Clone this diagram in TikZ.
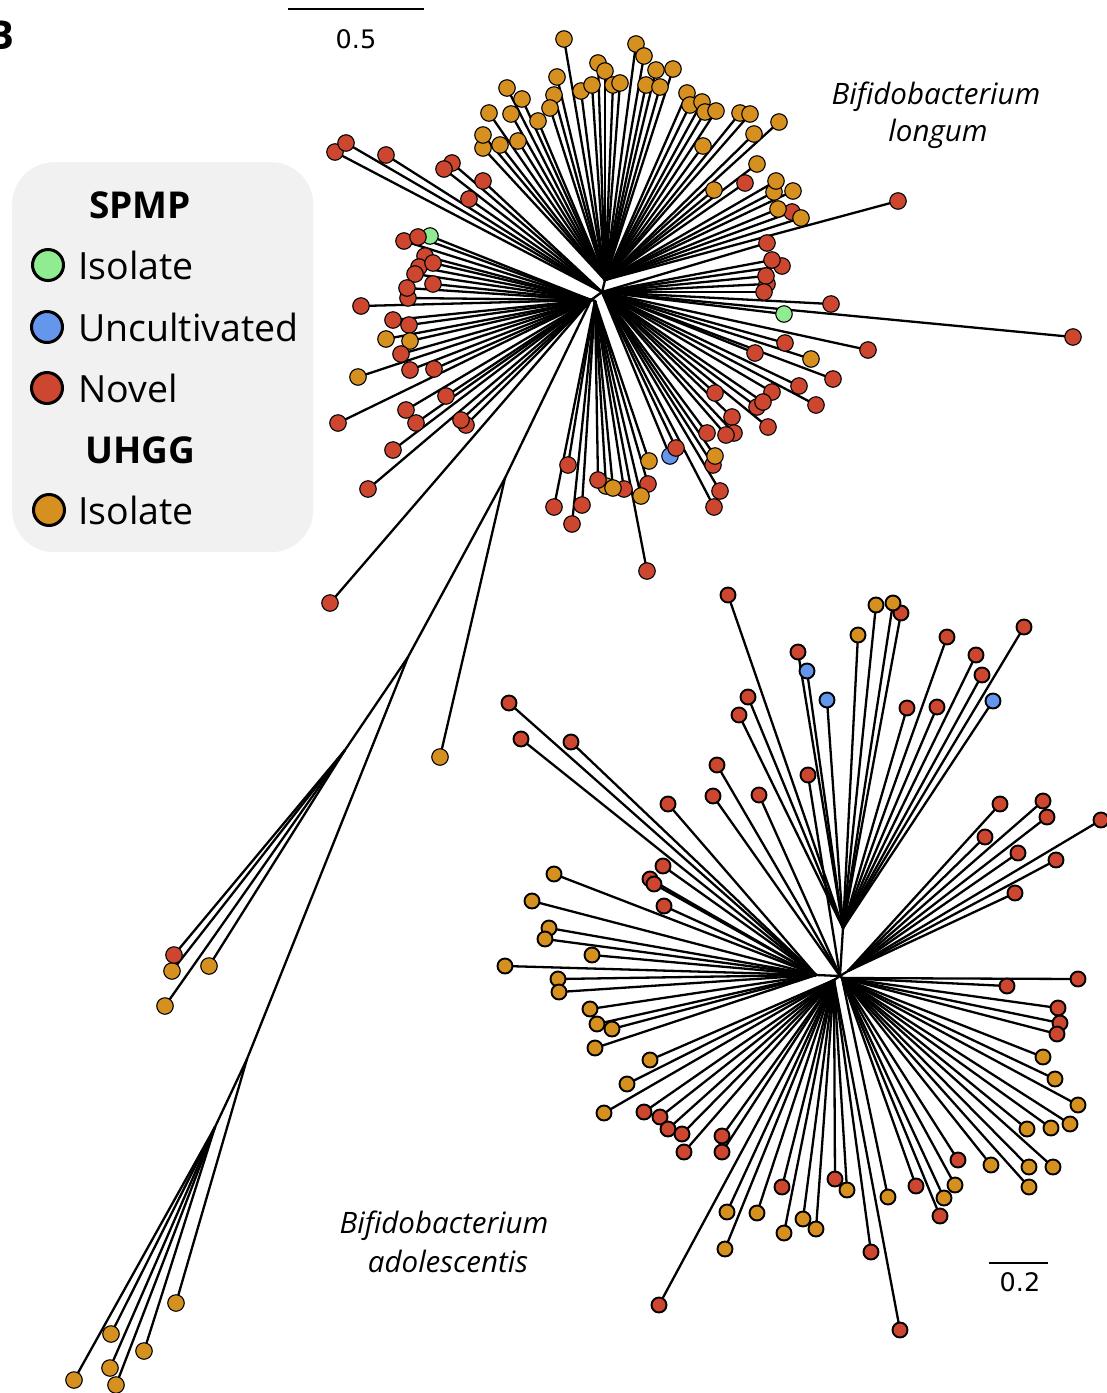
\documentclass[tikz,border=0pt]{standalone}
\usepackage{fontspec}
\setmainfont{Open Sans}
\newfontfamily\scalefnt{DejaVu Sans}
\definecolor{or}{RGB}{214,144,32}
\definecolor{rd}{RGB}{204,70,48}
\definecolor{gn}{RGB}{144,236,144}
\definecolor{bl}{RGB}{100,150,236}
\definecolor{leggray}{RGB}{241,241,241}
\pgfdeclarelayer{edges}
\pgfsetlayers{edges,main}
\tikzset{
  branch/.style={line width=2.3pt, line cap=round, black},
  tipbig/.style={circle, draw=black, line width=1.1pt, minimum size=16.5pt, inner sep=0pt},
  tipsmall/.style={circle, draw=black, line width=1.9pt, minimum size=15pt, inner sep=0pt},
  legdot/.style={circle, draw=black, line width=3pt, minimum size=31pt, inner sep=0pt},
  legtext/.style={anchor=base west, inner sep=0pt, font=\fontsize{37.5}{44}\selectfont},
  legtitle/.style={anchor=base, inner sep=0pt, font=\bfseries\fontsize{37}{44}\selectfont},
  species/.style={anchor=base, inner sep=0pt, font=\itshape\fontsize{29.5}{34}\selectfont},
  scalelbl/.style={anchor=base, inner sep=0pt, font=\scalefnt\fontsize{25.5}{30}\selectfont},
  scalebar/.style={line width=2.2pt},
}
% #1 hub, #2 name prefix, #3 tip style, #4 list x/y/colour
\newcommand\tipfan[4]{%
  \foreach \px/\py/\pc [count=\pk] in {#4} {
    \coordinate (#2-\pk) at (\px,\py);
    \begin{pgfonlayer}{edges}\draw[branch] (#1) -- (#2-\pk);\end{pgfonlayer}
    \node[#3, fill=\pc] at (#2-\pk) {};
  }}
\begin{document}
\begin{tikzpicture}[x=1pt,y=-1pt]
\useasboundingbox (0,0) rectangle (1107,1393);

% panel letter (cut at the left edge, as in the figure)
\node[anchor=base west, inner sep=0pt, font=\bfseries\fontsize{40}{48}\selectfont] (panel) at (-13,49) {B};

% legend
\node[fill=leggray, rounded corners=42pt, minimum width=301pt, minimum height=390pt, anchor=north west, inner sep=0pt] (legend) at (12,162) {};
\node[legtitle] (spmp) at (140,218) {SPMP};
\node[legdot, fill=gn] (ld1) at (48,265) {};
\node[legtext] (lt1) at (78,279) {Isolate};
\node[legdot, fill=bl] (ld2) at (47,327) {};
\node[legtext] (lt2) at (78,341) {Uncultivated};
\node[legdot, fill=rd] (ld3) at (47,388) {};
\node[legtext] (lt3) at (78,402) {Novel};
\node[legtitle] (uhgg) at (140,463) {UHGG};
\node[legdot, fill=or] (ld4) at (49,510) {};
\node[legtext] (lt4) at (78,524) {Isolate};

% scale bars
\coordinate (sa1) at (288,9); \coordinate (sa2) at (424,9);
\draw[scalebar] (sa1) -- (sa2);
\node[scalelbl] (sal) at (356,48) {0.5};
\coordinate (sb1) at (989,1263); \coordinate (sb2) at (1048,1263);
\draw[scalebar] (sb1) -- (sb2);
\node[scalelbl] (sbl) at (1020,1291) {0.2};

% species labels
\node[species] (lo1) at (936,104) {Bifidobacterium};
\node[species] (lo2) at (938,141) {longum};
\node[species] (ad1) at (444,1233) {Bifidobacterium};
\node[species] (ad2) at (448,1272) {adolescentis};

% ===== top tree (B. longum) internal structure
\coordinate (NT) at (605,280);
\coordinate (NR) at (602,292);
\coordinate (NL) at (591,300);
\coordinate (NB) at (595,301);
\coordinate (J1) at (505,478);
\coordinate (J2) at (408,657);
\coordinate (J3) at (345,750);
\coordinate (J4) at (247,1059);
\coordinate (J5) at (215,1127);
\begin{pgfonlayer}{edges}
\draw[branch] (NT) -- (NR) -- (NL) -- (NB);
\draw[branch] (NL) -- (J1) -- (J2) -- (J3);
\draw[branch] (J2) -- (J4) -- (J5);
\end{pgfonlayer}

\tipfan{NT}{nt}{tipbig}{564/39/or, 636/44/or, 644/56/or, 598/63/or, 605/71/or, 557/77/or, 656/70/or, 673/69/or, 507/88/or, 522/99/or, 554/95/or, 550/108/or, 581/91/or, 592/85/or, 613/85/or, 620/83/or, 646/85/or, 660/87/or, 489/113/or, 511/114/or, 538/121/or, 687/93/or, 690/105/or, 702/102/or, 705/112/or, 716/111/or, 740/113/or, 750/114/or, 483/148/or, 483/135/or, 500/145/or, 518/141/or, 779/122/or, 754/134/or, 703/146/or, 757/164/or, 714/190/or, 745/183/rd, 774/192/or, 776/181/or, 793/191/or, 792/212/rd, 778/209/or, 801/218/or, 898/201/rd}

\tipfan{NR}{nu}{tipbig}{335/152/rd, 346/143/rd, 386/155/rd, 452/163/rd, 444/169/rd, 483/181/rd, 469/199/rd}

\tipfan{NR}{nr}{tipbig}{767/243/rd, 782/266/rd, 772/260/rd, 767/284/rd, 766/276/rd, 764/292/rd, 831/304/rd, 784/314/gn, 1073/337/rd, 868/350/rd, 785/343/rd, 755/353/rd, 811/359/or, 833/379/rd, 799/386/rd, 772/392/rd, 816/405/rd, 757/407/rd, 763/402/rd, 768/427/rd, 715/393/rd, 732/417/rd, 707/433/rd, 734/433/rd, 726/435/rd, 713/465/rd, 715/456/or, 720/491/rd, 714/507/rd, 670/456/bl, 676/448/rd}

\tipfan{NL}{nl}{tipbig}{404/241/rd, 430/236/gn, 418/237/rd, 425/256/rd, 419/267/rd, 433/263/rd, 415/274/rd, 433/284/rd, 408/298/rd, 407/288/rd, 361/306/rd, 393/320/rd, 409/325/rd, 386/339/or, 410/341/or, 401/354/rd, 410/370/rd, 434/369/rd, 358/377/or, 446/396/rd, 406/410/rd, 416/423/rd, 466/425/rd, 461/420/rd, 338/423/rd, 393/450/rd, 368/489/rd, 330/603/rd}

\tipfan{NB}{nb}{tipbig}{568/465/rd, 554/507/rd, 582/505/rd, 572/524/rd, 606/486/or, 624/489/rd, 613/488/or, 598/480/rd, 649/461/or, 648/484/rd, 641/496/or, 647/571/rd}

\tipfan{J1}{ja}{tipbig}{440/757/or}
\tipfan{J3}{jc}{tipbig}{172/971/or, 174/955/rd, 209/966/or, 165/1006/or}
\tipfan{J4}{jd}{tipbig}{176/1303/or}
\tipfan{J5}{je}{tipbig}{74/1380/or, 111/1334/or, 110/1368/or, 116/1385/or, 144/1351/or}

% ===== bottom tree (B. adolescentis)
\coordinate (H) at (840,976);
\coordinate (HT) at (843,928);
\coordinate (HL) at (816,975);
\coordinate (HB) at (834,980);
\coordinate (HR) at (848,971);
\coordinate (HD) at (842,978);
\begin{pgfonlayer}{edges}
\draw[branch] (HT) -- (H) -- (HL);
\draw[branch] (H) -- (HB);
\draw[branch] (H) -- (HR);
\draw[branch] (H) -- (HD);
\end{pgfonlayer}

\tipfan{HT}{ht}{tipsmall}{728/595/rd, 901/613/rd, 876/605/or, 893/603/or, 858/635/or, 798/652/rd, 807/671/bl, 827/700/bl, 748/697/rd, 739/715/rd, 947/637/rd, 1024/627/rd, 976/655/rd, 982/675/rd, 993/701/bl, 907/708/rd, 937/707/rd}

\tipfan{H}{hx}{tipsmall}{717/765/rd, 713/796/rd, 759/795/rd, 808/775/rd}

\tipfan{HL}{hl}{tipsmall}{509/703/rd, 521/739/rd, 571/742/rd, 668/804/rd, 663/866/rd, 650/879/rd, 654/884/rd, 664/906/rd, 554/874/or, 532/901/or, 549/928/or, 545/939/or, 592/955/or, 505/966/or, 558/979/or, 559/992/or, 590/1009/or, 597/1024/or, 612/1029/or, 595/1048/or}

\tipfan{HR}{hr}{tipsmall}{1000/804/rd, 1043/801/rd, 1047/817/rd, 985/837/rd, 1018/853/rd, 1101/820/rd, 1056/860/rd, 1015/893/rd}

\tipfan{HD}{hy}{tipsmall}{1007/986/rd, 1078/979/rd, 1058/1008/rd, 1060/1023/rd, 1057/1034/rd}

\tipfan{HB}{hb}{tipsmall}{650/1060/or, 627/1084/or, 604/1113/or, 644/1112/rd, 660/1117/rd, 668/1129/rd, 682/1134/rd, 684/1152/rd, 722/1136/rd, 722/1152/rd, 782/1187/rd, 727/1212/or, 757/1213/or, 725/1249/or, 784/1233/or, 803/1219/or, 816/1229/or, 659/1305/rd, 835/1179/rd, 847/1190/or, 871/1252/rd, 900/1330/rd}

\tipfan{HD}{hz}{tipsmall}{888/1197/or, 916/1186/rd, 940/1216/rd, 944/1198/or, 955/1185/or, 958/1160/rd, 991/1165/or, 1029/1167/or, 1029/1187/or, 1053/1167/or, 1027/1129/or, 1051/1128/or, 1070/1124/or, 1078/1105/or, 1055/1079/or, 1043/1057/or}

\end{tikzpicture}
\end{document}
